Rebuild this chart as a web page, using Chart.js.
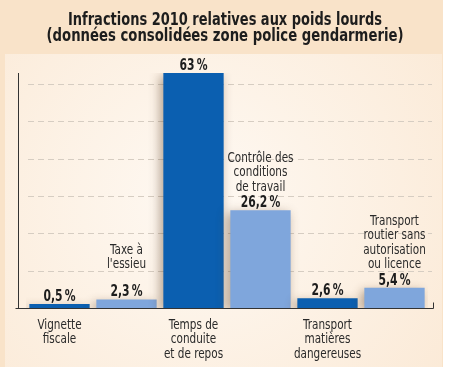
<!DOCTYPE html>
<html><head><meta charset="utf-8">
<script src="https://cdn.jsdelivr.net/npm/chart.js@4/dist/chart.umd.min.js"></script>
<style>html,body{margin:0;padding:0;background:#fff}#wrap{width:450px;height:367px}</style>
</head><body><div id="wrap"><canvas id="c" width="450" height="367"></canvas></div>
<script>
const titleLines = ["Infractions 2010 relatives aux poids lourds", "(données consolidées zone police gendarmerie)"];
const categories = [["Vignette","fiscale"],["Taxe à","l'essieu"],["Temps de","conduite","et de repos"],["Contrôle des","conditions","de travail"],["Transport","matières","dangereuses"],["Transport","routier sans","autorisation","ou licence"]];
const values = [0.5, 2.3, 63, 26.2, 2.6, 5.4];
const valueLabels = ["0,5\u202F%", "2,3\u202F%", "63\u202F%", "26,2\u202F%", "2,6\u202F%", "5,4\u202F%"];
const labelPlace = ["below","above","below","above","below","above"];
const gridValues = [10, 20, 30, 40, 50, 60];

// style
const DARK = "#0b5fb0", LIGHT = "#7fa6dc";
const FONT = "'DejaVu Sans Condensed','Liberation Sans',sans-serif";
const aboveGap = [16, 28, 16, 16, 16, 16];

function condText(ctx, text, x, y, font, sx) {
  ctx.save();
  ctx.font = font;
  ctx.translate(x, y);
  ctx.scale(sx, 1);
  ctx.fillText(text, 0, 0);
  ctx.restore();
}

const bgPlugin = {
  id: 'bg',
  beforeDraw(chart) {
    const ctx = chart.ctx;
    ctx.save();
    ctx.fillStyle = "#f9e3c9";
    ctx.fillRect(0, 0, 450, 367);
    const g = ctx.createRadialGradient(200, 200, 20, 200, 200, 300);
    g.addColorStop(0, "#fef8f1");
    g.addColorStop(1, "#fbead7");
    ctx.fillStyle = g;
    ctx.fillRect(5, 54, 437, 313);
    ctx.fillStyle = "#ffffff";
    ctx.fillRect(443, 0, 7, 367);
    // title
    ctx.fillStyle = "#1d1d1d";
    ctx.textAlign = "center";
    ctx.textBaseline = "alphabetic";
    const tf = "bold 18px " + FONT;
    ctx.font = tf;
    const w1 = ctx.measureText(titleLines[0]).width;
    const w2 = ctx.measureText(titleLines[1]).width;
    condText(ctx, titleLines[0], 225, 25, tf, 314 / w1);
    condText(ctx, titleLines[1], 225, 41, tf, 357 / w2);
    // grid
    const y = chart.scales.y;
    ctx.strokeStyle = "#d6cdc2";
    ctx.lineWidth = 1;
    ctx.setLineDash([6, 4]);
    gridValues.forEach(v => {
      const py = Math.round(y.getPixelForValue(v)) + 0.5;
      ctx.beginPath();
      ctx.moveTo(chart.chartArea.left + 2, py);
      ctx.lineTo(chart.chartArea.right + 4, py);
      ctx.stroke();
    });
    ctx.setLineDash([]);
    ctx.restore();
  },
  beforeDatasetsDraw(chart) {
    const ctx = chart.ctx;
    ctx.save();
    ctx.shadowColor = "rgba(90,60,30,0.45)";
    ctx.shadowBlur = 10;
    ctx.shadowOffsetX = -3;
    ctx.shadowOffsetY = 3;
  },
  afterDatasetsDraw(chart) {
    const ctx = chart.ctx;
    ctx.restore();
    ctx.save();
    const y = chart.scales.y;
    const base = Math.round(y.getPixelForValue(0)) + 0.5;
    const top = y.getPixelForValue(63);
    const left = chart.chartArea.left - 8 + 0.5;
    const right = chart.chartArea.right + 5 + 0.5;
    ctx.strokeStyle = "#333";
    ctx.lineWidth = 1;
    ctx.beginPath();
    ctx.moveTo(left, top);
    ctx.lineTo(left, base);
    ctx.moveTo(left - 3, base);
    ctx.lineTo(right, base);
    ctx.lineTo(right, base - 6);
    ctx.stroke();

    const meta = chart.getDatasetMeta(0);
    ctx.textAlign = "center";
    ctx.textBaseline = "middle";
    meta.data.forEach((bar, i) => {
      const vy = bar.y - 7;
      ctx.fillStyle = "#1d1d1d";
      condText(ctx, valueLabels[i], bar.x, vy, "bold 15px " + FONT, 0.8);
      ctx.fillStyle = "#2a2a2a";
      const lf = "14px " + FONT;
      const lines = categories[i];
      if (labelPlace[i] === "above") {
        for (let k = 0; k < lines.length; k++) {
          condText(ctx, lines[lines.length - 1 - k], bar.x, vy - aboveGap[i] - k * 14.5, lf, 0.83);
        }
      } else {
        for (let k = 0; k < lines.length; k++) {
          condText(ctx, lines[k], bar.x, 325 + k * 14.5, lf, 0.83);
        }
      }
    });
    ctx.restore();
  }
};

new Chart(document.getElementById('c'), {
  type: 'bar',
  data: {
    labels: categories.map(c => c.join(' ')),
    datasets: [{
      data: values,
      backgroundColor: values.map((v, i) => i % 2 === 0 ? DARK : LIGHT),
      borderWidth: 0,
      barPercentage: 0.9,
      categoryPercentage: 1.0,
      minBarLength: 4
    }]
  },
  options: {
    responsive: false,
    animation: false,
    devicePixelRatio: 1,
    layout: { padding: { left: 26, right: 22, top: 73, bottom: 59 } },
    plugins: { legend: { display: false }, title: { display: false }, tooltip: { enabled: false } },
    scales: {
      x: { display: false },
      y: { display: false, min: 0, max: 63 }
    }
  },
  plugins: [bgPlugin]
});
</script>
</body></html>
